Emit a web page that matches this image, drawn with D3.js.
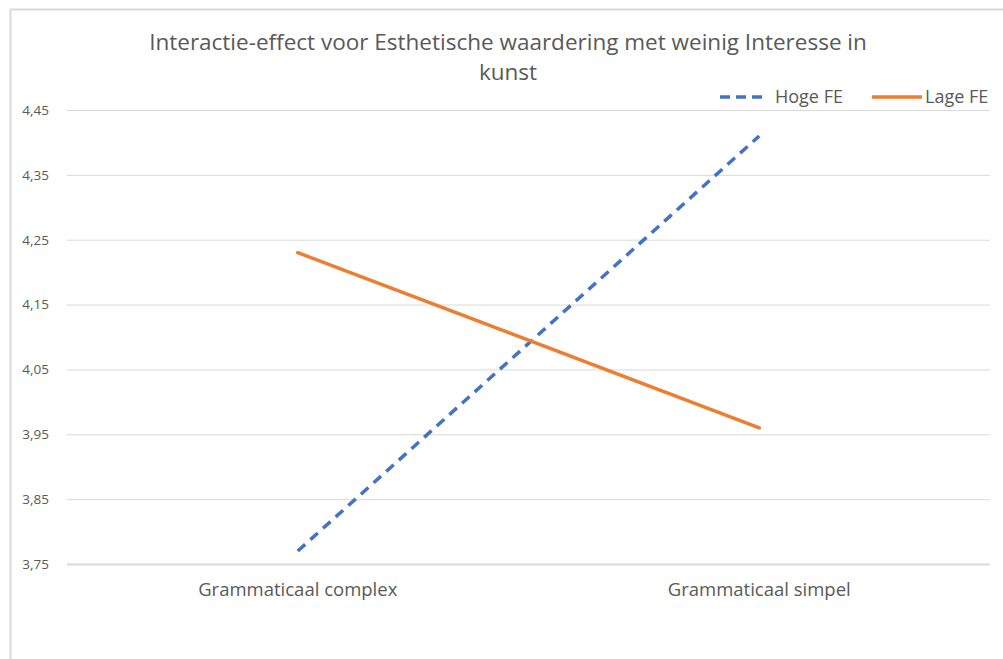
<!DOCTYPE html>
<html lang="nl">
<head>
<meta charset="UTF-8">
<title>Interactie-effect</title>
<script src="https://cdn.jsdelivr.net/npm/d3@7"></script>
<style>
  body { margin: 0; background: #fff; }
  text { font-family: "Open Sans", "Liberation Sans", sans-serif; fill: #595959; }
</style>
</head>
<body>
<div id="container"></div>
<script>
    // data
    var categories = ["Grammaticaal complex", "Grammaticaal simpel"];
    var hogeFE = [3.77, 4.41];
    var lageFE = [4.23, 3.96];
    var yTicks = [3.75, 3.85, 3.95, 4.05, 4.15, 4.25, 4.35, 4.45];
    var seriesNames = ["Hoge FE", "Lage FE"];

    var W = 1003, H = 659;
    var margin = { top: 110, right: 13, bottom: 95, left: 67 };
    var width = W - margin.left - margin.right;
    var height = H - margin.top - margin.bottom;

    var svg = d3.select("#container").append("svg")
        .attr("width", W)
        .attr("height", H);

    // chart frame (only top and left visible)
    svg.append("path")
        .attr("d", "M10.5," + H + "V9.5H" + W)
        .attr("fill", "none")
        .attr("stroke", "#d9d9d9")
        .attr("stroke-width", 2);

    var g = svg.append("g")
        .attr("transform", "translate(" + margin.left + "," + margin.top + ")");

    var x = d3.scaleBand().domain(categories).range([0, width]);
    var y = d3.scaleLinear().domain([3.75, 4.45]).range([height, 0]);

    var fmt = function (d) { return d3.format(".2f")(d).replace(".", ","); };

    // gridlines + y labels
    var yAxis = d3.axisLeft(y).tickValues(yTicks).tickSize(-width).tickFormat(fmt).tickPadding(18);
    var ya = g.append("g").call(yAxis);
    ya.select(".domain").remove();
    ya.selectAll(".tick line").attr("stroke", "#d9d9d9").attr("stroke-width", 1);
    ya.selectAll(".tick text").attr("font-size", 13.5).style("fill", "#595959")
        .attr("font-family", "\"Open Sans\", sans-serif");
    ya.selectAll(".tick").filter(d => d === 3.75).select("line").attr("stroke-width", 2);

    // x labels
    var xAxis = d3.axisBottom(x).tickSize(0).tickPadding(19);
    var xa = g.append("g").attr("transform", "translate(0," + height + ")").call(xAxis);
    xa.select(".domain").remove();
    xa.selectAll(".tick text").attr("font-size", 18.5).style("fill", "#595959")
        .attr("font-family", "\"Open Sans\", sans-serif");

    var line = d3.line()
        .x((d, i) => x(categories[i]) + x.bandwidth() / 2)
        .y(d => y(d));

    g.append("path")
        .datum(hogeFE)
        .attr("d", line)
        .attr("fill", "none")
        .attr("stroke", "#4472c4")
        .attr("stroke-width", 3.5)
        .attr("stroke-dasharray", "10,7");

    g.append("path")
        .datum(lageFE)
        .attr("d", line)
        .attr("fill", "none")
        .attr("stroke", "#ed7d31")
        .attr("stroke-width", 3.5)
        .attr("stroke-linecap", "round");

    // title
    var title = svg.append("text")
        .attr("x", 508)
        .attr("y", 50)
        .attr("text-anchor", "middle")
        .attr("font-size", 22.5);
    title.append("tspan").attr("x", 508).text("Interactie-effect voor Esthetische waardering met weinig Interesse in");
    title.append("tspan").attr("x", 508).attr("dy", 30).text("kunst");

    // legend
    var legend = svg.append("g").attr("transform", "translate(0,97)");
    var legendItems = [
        { name: seriesNames[0], x: 720, len: 45, tx: 775, color: "#4472c4", dash: "10,6" },
        { name: seriesNames[1], x: 872, len: 50, tx: 925, color: "#ed7d31", dash: null }
    ];
    legendItems.forEach(function (d) {
        legend.append("line")
            .attr("x1", d.x).attr("x2", d.x + d.len)
            .attr("y1", 0).attr("y2", 0)
            .attr("stroke", d.color)
            .attr("stroke-width", 3.5)
            .attr("stroke-dasharray", d.dash);
        legend.append("text")
            .attr("x", d.tx)
            .attr("y", 6)
            .attr("font-size", 18)
            .text(d.name);
    });
</script>
</body>
</html>
